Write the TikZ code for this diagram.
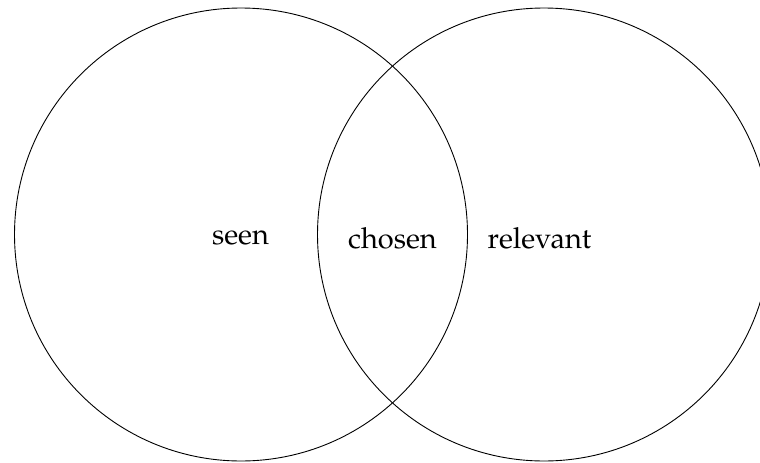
\documentclass[tikz,border=0pt]{standalone}
\usepackage{fontspec}
\setmainfont{TeX Gyre Pagella}
\usetikzlibrary{positioning}

\begin{document}
\begin{tikzpicture}[x=0.5pt,y=0.5pt,
  setline/.style={draw=black,line width=0.45pt},
  setlabel/.style={font=\fontsize{14.5}{17}\selectfont,inner sep=0pt}]
  \useasboundingbox (0,0) rectangle (760,462);
  % the two sets
  \coordinate (cseen) at (241,227.5);
  \coordinate (crel) at (544,227.5);
  \draw[setline] (cseen) circle (226.5);
  \draw[setline] (crel) circle (226.5);
  \node[setlabel] (seen) at (240.5,224) {seen};
  \node[setlabel] (chosen) at (392.5,224) {chosen};
  \node[setlabel] (relevant) at (539.5,224) {relevant};
\end{tikzpicture}
\end{document}
